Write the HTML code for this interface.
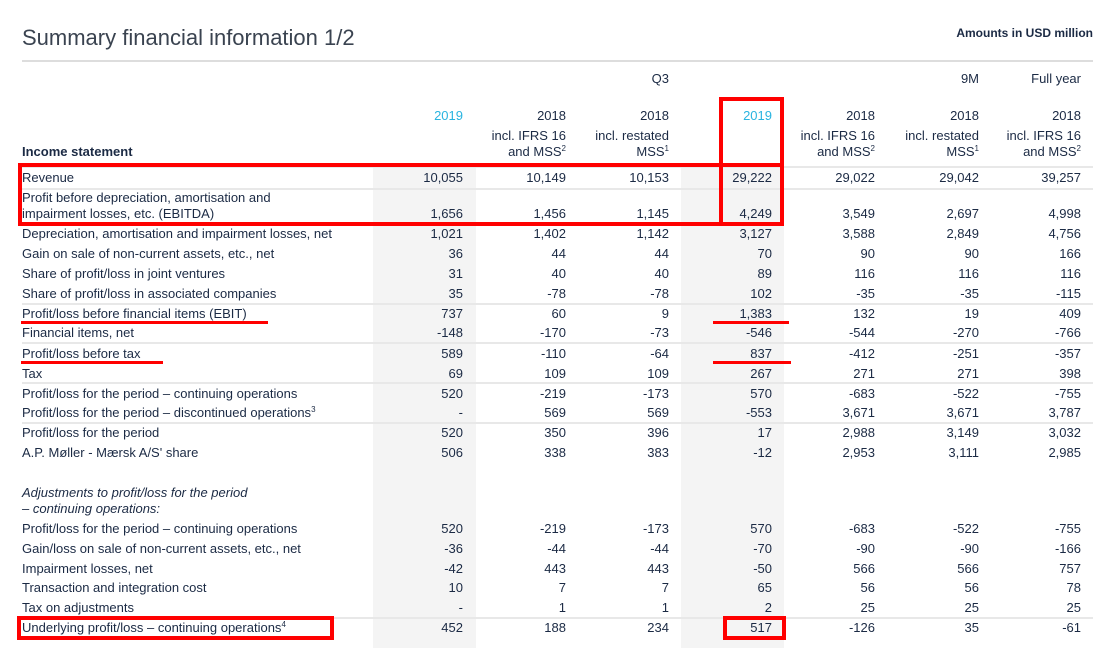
<!DOCTYPE html>
<html><head><meta charset="utf-8"><style>
body{margin:0;width:1114px;height:648px;background:#fff;position:relative;overflow:hidden;font-family:"Liberation Sans",sans-serif;color:#1b2a44}
.t{position:absolute;font-size:13px;line-height:16px;white-space:nowrap}
.r{text-align:right}
.g{position:absolute;background:#f4f4f4;top:167px;bottom:0}
.l{position:absolute;left:22px;width:1071px;height:2px;background:#e8e8e8}
.rb{position:absolute;border:4px solid #f00;box-sizing:border-box}
.ru{position:absolute;height:3px;background:#f00}
.b{color:#2ab4e0}
sup{font-size:8px;vertical-align:5px;line-height:0}
</style></head><body>
<div class="t" style="left:22px;top:24px;font-size:22px;line-height:28px;color:#3a4350">Summary financial information 1/2</div>
<div class="t r" style="right:21px;top:25px;font-weight:bold;font-size:12px">Amounts in USD million</div>
<div class="l" style="top:60px;height:2px;background:#ddd"></div>
<div class="g" style="left:373px;width:103px"></div>
<div class="g" style="left:681px;width:103px"></div>
<div id="c"></div>
<script>
const cols=[463,566,669,772,875,979,1081];
function T(x,y,s,cls,st){const d=document.createElement('div');d.className='t '+(cls||'');d.innerHTML=s;if(cls&&cls.includes('r')){d.style.right=(1114-x)+'px'}else d.style.left=x+'px';d.style.top=(y-8)+'px';if(st)d.style.cssText+=st;document.body.appendChild(d)}
T(669,79,'Q3','r');T(979,79,'9M','r');T(1081,79,'Full year','r');
const yrs=['2019','2018','2018','2019','2018','2018','2018'];
const s1=['','incl. IFRS 16','incl. restated','','incl. IFRS 16','incl. restated','incl. IFRS 16'];
const s2=['','and MSS<sup>2</sup>','MSS<sup>1</sup>','','and MSS<sup>2</sup>','MSS<sup>1</sup>','and MSS<sup>2</sup>'];
cols.forEach((x,i)=>{T(x,116,yrs[i],'r'+(i==0||i==3?' b':''));if(s1[i])T(x,136,s1[i],'r');if(s2[i])T(x,152,s2[i],'r');});
T(22,152,'Income statement','','font-weight:bold');
const rows=[
[178,'Revenue',['10,055','10,149','10,153','29,222','29,022','29,042','39,257']],
[214,'impairment losses, etc. (EBITDA)',['1,656','1,456','1,145','4,249','3,549','2,697','4,998']],
[234,'Depreciation, amortisation and impairment losses, net',['1,021','1,402','1,142','3,127','3,588','2,849','4,756']],
[254,'Gain on sale of non-current assets, etc., net',['36','44','44','70','90','90','166']],
[274,'Share of profit/loss in joint ventures',['31','40','40','89','116','116','116']],
[294,'Share of profit/loss in associated companies',['35','-78','-78','102','-35','-35','-115']],
[314,'Profit/loss before financial items (EBIT)',['737','60','9','1,383','132','19','409']],
[333,'Financial items, net',['-148','-170','-73','-546','-544','-270','-766']],
[354,'Profit/loss before tax',['589','-110','-64','837','-412','-251','-357']],
[374,'Tax',['69','109','109','267','271','271','398']],
[394,'Profit/loss for the period – continuing operations',['520','-219','-173','570','-683','-522','-755']],
[413,'Profit/loss for the period – discontinued operations<sup>3</sup>',['-','569','569','-553','3,671','3,671','3,787']],
[433,'Profit/loss for the period',['520','350','396','17','2,988','3,149','3,032']],
[453,'A.P. Møller - Mærsk A/S\' share',['506','338','383','-12','2,953','3,111','2,985']],
[529,'Profit/loss for the period – continuing operations',['520','-219','-173','570','-683','-522','-755']],
[549,'Gain/loss on sale of non-current assets, etc., net',['-36','-44','-44','-70','-90','-90','-166']],
[569,'Impairment losses, net',['-42','443','443','-50','566','566','757']],
[588,'Transaction and integration cost',['10','7','7','65','56','56','78']],
[608,'Tax on adjustments',['-','1','1','2','25','25','25']],
[628,'Underlying profit/loss – continuing operations<sup>4</sup>',['452','188','234','517','-126','35','-61']]];
T(22,198,'Profit before depreciation, amortisation and');
rows.forEach(r=>{T(22,r[0],r[1]);r[2].forEach((v,i)=>T(cols[i],r[0],v,'r'))});
T(22,493,'Adjustments to profit/loss for the period','','font-style:italic');
T(22,509,'– continuing operations:','','font-style:italic');
[167,189,304,343,383,423,618].forEach(y=>{const d=document.createElement('div');d.className='l';d.style.top=(y-1)+'px';document.body.appendChild(d)});
function B(x1,y1,x2,y2,c){const d=document.createElement('div');d.className=c;d.style.left=x1+'px';d.style.top=y1+'px';d.style.width=(x2-x1)+'px';d.style.height=(y2-y1)+'px';document.body.appendChild(d)}
B(18,163,784,226,'rb');B(719,97,784,226,'rb');
B(21,321,268,324,'ru');B(21,361,163,364,'ru');B(713,321,789,324,'ru');B(713,361,791,364,'ru');
B(17,616,334,640,'rb');B(723,616,786,640,'rb');
</script>
</body></html>
